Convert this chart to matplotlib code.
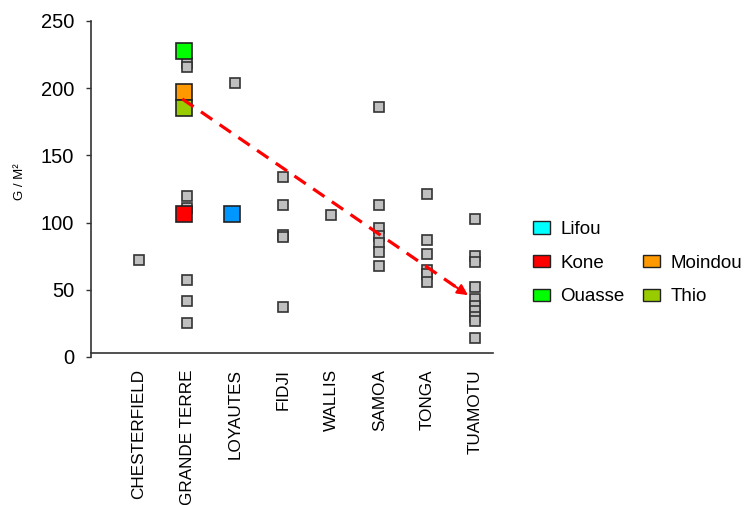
import matplotlib
matplotlib.use("Agg")
import matplotlib.pyplot as plt
from matplotlib.patches import Patch

plt.rcParams['font.family'] = ['Liberation Sans', 'DejaVu Sans']

categories = ['CHESTERFIELD', 'GRANDE TERRE', 'LOYAUTES', 'FIDJI',
              'WALLIS', 'SAMOA', 'TONGA', 'TUAMOTU']
gray_values = [
    [72],
    [219, 216, 120, 111, 57, 42, 25],
    [204],
    [134, 113, 91, 89, 37],
    [106],
    [186, 113, 96, 90, 85, 78, 68],
    [121, 87, 77, 65, 62, 56],
    [103, 75, 71, 52, 43, 38, 34, 30, 27, 14],
]
site_names = ['Lifou', 'Kone', 'Ouasse', 'Moindou', 'Thio']
site_category = ['LOYAUTES', 'GRANDE TERRE', 'GRANDE TERRE', 'GRANDE TERRE', 'GRANDE TERRE']
site_values = [106.5, 106.5, 228, 197.5, 185]
site_colors = ['#0096FF', '#FF0000', '#00FF00', '#FF9900', '#99CC00']
legend_colors = ['#00FFFF', '#FF0000', '#00FF00', '#FF9900', '#99CC00']
trend_x = [1.9, 7.85]
trend_y = [192, 46]
yticks = [0, 50, 100, 150, 200, 250]

fig = plt.figure(figsize=(7.48, 5.05), dpi=100)
ax = fig.add_axes([91 / 748, 1 - 357 / 505, (493 - 91) / 748, (357 - 21) / 505])

for i, vals in enumerate(gray_values):
    ax.plot([i + 1] * len(vals), vals, linestyle='none', marker='s',
            markersize=7.2, markerfacecolor='#C0C0C0', markeredgecolor='#333333',
            markeredgewidth=1.2, zorder=3)

for name, cat, val, col in zip(site_names, site_category, site_values, site_colors):
    ax.plot([categories.index(cat) + 1 - 0.07], [val], linestyle='none', marker='s',
            markersize=11.6, markerfacecolor=col, markeredgecolor='#222222',
            markeredgewidth=1.2, zorder=4)

# dashed trend line with arrow head
ax.plot([trend_x[0], trend_x[1] - 0.25], [trend_y[0], trend_y[1] + 6.1], color='#FF0000',
        linewidth=2.3, linestyle=(0, (4.3, 2.8)), zorder=5,
        dash_capstyle='butt')
ax.annotate('', xy=(trend_x[1], trend_y[1]), xytext=(trend_x[1] - 0.3, trend_y[1] + 7.3),
            arrowprops=dict(arrowstyle='-|>', color='#FF0000', lw=1.5,
                            mutation_scale=16, shrinkA=0, shrinkB=0), zorder=6)

ax.set_xlim(0, 8.37)
ax.set_ylim(0, 250)
ax.tick_params(axis='x', length=0, pad=12, labelrotation=90, labelsize=12.3)
ax.tick_params(axis='y', direction='out', length=3.6, width=1, pad=8.6,
               color='#333333', labelsize=14.5)
ax.set_yticks(yticks)
ax.set_yticklabels([str(v) for v in yticks])
ax.set_xticks(range(1, len(categories) + 1))
ax.set_xticklabels(categories, rotation=90, va='top', ha='center')

for s in ['top', 'right']:
    ax.spines[s].set_visible(False)
ax.spines['left'].set_color('#333333')
ax.spines['left'].set_linewidth(1.2)
ax.spines['bottom'].set_color('#333333')
ax.spines['bottom'].set_linewidth(1.2)
ax.spines['bottom'].set_position(('data', 3.3))

fig.text(20 / 748, 1 - 182 / 505, 'G / M²', rotation=90, fontsize=9.5,
         ha='center', va='center')

handles = []
labels = []
order = [0, 1, 2, None, 3, 4]
for o in order:
    if o is None:
        handles.append(Patch(facecolor='none', edgecolor='none'))
        labels.append('')
    else:
        handles.append(Patch(facecolor=legend_colors[o], edgecolor='#222222', linewidth=1))
        labels.append(site_names[o])

fig.legend(handles, labels, ncol=2, loc='upper left',
           bbox_to_anchor=(533 / 748, 1 - 221 / 505), frameon=False,
           fontsize=13.5, handlelength=0.9, handleheight=0.65,
           handletextpad=0.55, columnspacing=1.0, labelspacing=0.89,
           borderpad=0, borderaxespad=0)

fig.savefig('out.png', dpi=100)
